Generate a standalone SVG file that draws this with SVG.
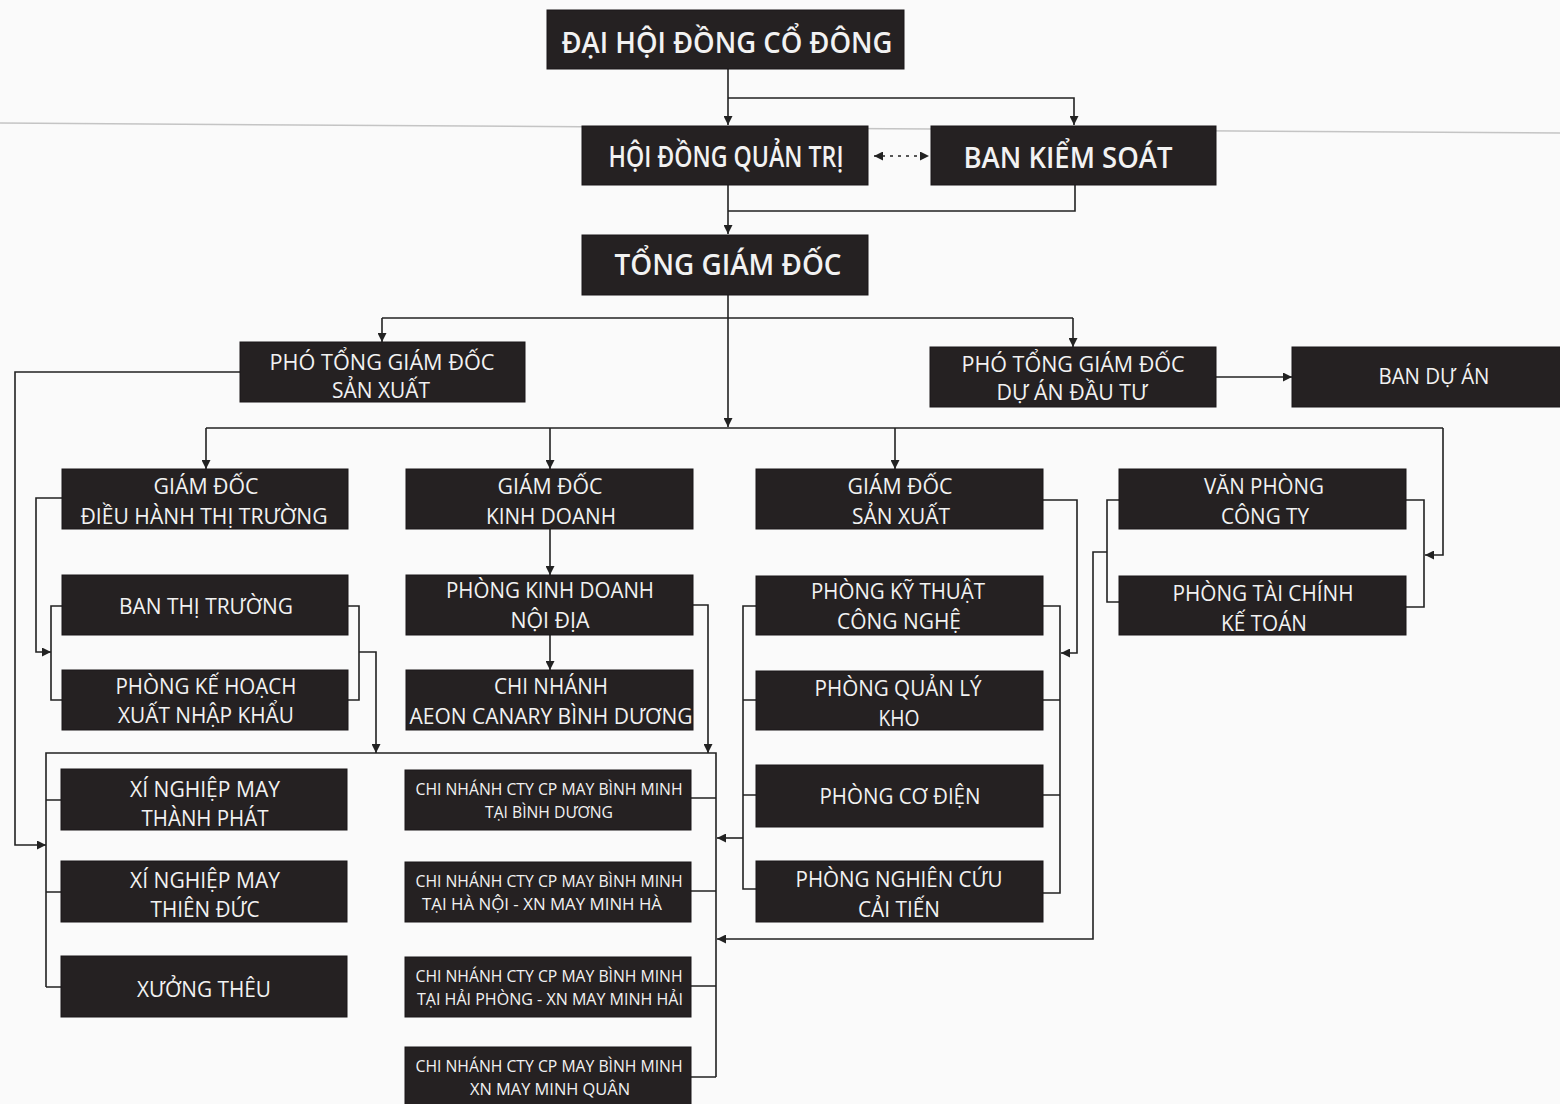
<svg xmlns="http://www.w3.org/2000/svg" width="1560" height="1104" viewBox="0 0 1560 1104">
<defs>
<marker id="ah" viewBox="0 0 10 10" refX="10" refY="5" markerWidth="9" markerHeight="9" markerUnits="userSpaceOnUse" orient="auto"><path d="M0,0 L10,5 L0,10 z" fill="#222"/></marker>
<marker id="ahs" viewBox="0 0 10 10" refX="0" refY="5" markerWidth="9" markerHeight="9" markerUnits="userSpaceOnUse" orient="auto"><path d="M10,0 L0,5 L10,10 z" fill="#222"/></marker>
</defs>
<style>
.box{fill:#252122;stroke:#1a1718;stroke-width:1}
.t{font-family:"Open Sans","Noto Sans","DejaVu Sans",sans-serif;fill:#f2f2f2;text-anchor:middle}
.big{font-size:28px;font-weight:600}
.mid{font-size:22px}
.sm{font-size:16px}
.c{fill:none;stroke:#222;stroke-width:1.6}
.a{marker-end:url(#ah)}
</style>
<rect x="0" y="0" width="1560" height="1104" fill="#fafafa"/>
<line x1="0" y1="123" x2="1560" y2="133" stroke="#c4c4c4" stroke-width="1.5"/>

<g id="connectors">
<path class="c a" d="M728,69 V125"/>
<path class="c a" d="M728,98 H1074 V125"/>
<path class="c" d="M874,156 H929" stroke-width="2.2" stroke-dasharray="3,5" marker-start="url(#ahs)" marker-end="url(#ah)"/>
<path class="c a" d="M728,185 V234"/>
<path class="c" d="M1075,185 V211 H728"/>
<path class="c a" d="M728,295 V427"/>
<path class="c" d="M382,318 H1073"/>
<path class="c a" d="M382,318 V342"/>
<path class="c a" d="M1073,318 V347"/>
<path class="c a" d="M1216,377 H1292"/>
<path class="c" d="M206,428 H1443"/>
<path class="c a" d="M206,428 V469"/>
<path class="c a" d="M550,428 V469"/>
<path class="c a" d="M895,428 V469"/>
<path class="c a" d="M1443,428 V555 H1425"/>
<path class="c a" d="M240,372 H15 V845 H46"/>
<path class="c a" d="M62,498 H36 V652 H51"/>
<path class="c" d="M62,606 H51 V700 H62"/>
<path class="c" d="M348,606 H359 V700 H348"/>
<path class="c a" d="M359,652 H376 V753"/>
<path class="c a" d="M550,529 V575"/>
<path class="c a" d="M550,635 V670"/>
<path class="c a" d="M693,605 H708 V753"/>
<path class="c" d="M46,987 V753 H716 V1077"/>
<path class="c" d="M46,800 H61 M46,892 H61 M46,987 H61"/>
<path class="c" d="M691,798 H716 M691,891 H716 M691,986 H716 M691,1077 H716"/>
<path class="c a" d="M1043,500 H1077 V653 H1061"/>
<path class="c" d="M1043,606 H1060 V893 H1043 M1043,700 H1060 M1043,795 H1060"/>
<path class="c" d="M756,606 H743 V889 H756 M743,700 H756 M743,795 H756"/>
<path class="c a" d="M743,838 H717"/>
<path class="c" d="M1119,500 H1107 V602 H1119"/>
<path class="c a" d="M1107,552 H1093 V939 H717"/>
<path class="c" d="M1406,500 H1424 V607 H1406"/>
</g>

<g id="dai-hoi-dong-co-dong"><rect class="box" x="547" y="10" width="357" height="59"/><text class="t big" x="727" y="53" textLength="331" lengthAdjust="spacingAndGlyphs">ĐẠI HỘI ĐỒNG CỔ ĐÔNG</text></g>
<g id="hoi-dong-quan-tri"><rect class="box" x="582" y="126" width="286" height="59"/><text class="t big" x="726" y="167" font-size="26" textLength="235" lengthAdjust="spacingAndGlyphs">HỘI ĐỒNG QUẢN TRỊ</text></g>
<g id="ban-kiem-soat"><rect class="box" x="931" y="126" width="285" height="59"/><text class="t big" x="1068" y="168" textLength="209" lengthAdjust="spacingAndGlyphs">BAN KIỂM SOÁT</text></g>
<g id="tong-giam-doc"><rect class="box" x="582" y="235" width="286" height="60"/><text class="t big" x="728" y="275" textLength="227" lengthAdjust="spacingAndGlyphs">TỔNG GIÁM ĐỐC</text></g>

<g id="pho-tgd-san-xuat"><rect class="box" x="240" y="342" width="285" height="60"/><text class="t mid" x="382" y="370" textLength="225" lengthAdjust="spacingAndGlyphs">PHÓ TỔNG GIÁM ĐỐC</text><text class="t mid" x="381" y="398" textLength="98" lengthAdjust="spacingAndGlyphs">SẢN XUẤT</text></g>
<g id="pho-tgd-du-an"><rect class="box" x="930" y="347" width="286" height="60"/><text class="t mid" x="1073" y="372" textLength="223" lengthAdjust="spacingAndGlyphs">PHÓ TỔNG GIÁM ĐỐC</text><text class="t mid" x="1072" y="400" textLength="151" lengthAdjust="spacingAndGlyphs">DỰ ÁN ĐẦU TƯ</text></g>
<g id="ban-du-an"><rect class="box" x="1292" y="347" width="272" height="60"/><text class="t mid" x="1434" y="384" textLength="111" lengthAdjust="spacingAndGlyphs">BAN DỰ ÁN</text></g>

<g id="gd-dieu-hanh-thi-truong"><rect class="box" x="62" y="469" width="286" height="60"/><text class="t mid" x="206" y="494" textLength="105" lengthAdjust="spacingAndGlyphs">GIÁM ĐỐC</text><text class="t mid" x="204" y="524" textLength="247" lengthAdjust="spacingAndGlyphs">ĐIỀU HÀNH THỊ TRƯỜNG</text></g>
<g id="gd-kinh-doanh"><rect class="box" x="406" y="469" width="287" height="60"/><text class="t mid" x="550" y="494" textLength="105" lengthAdjust="spacingAndGlyphs">GIÁM ĐỐC</text><text class="t mid" x="551" y="524" textLength="130" lengthAdjust="spacingAndGlyphs">KINH DOANH</text></g>
<g id="gd-san-xuat"><rect class="box" x="756" y="469" width="287" height="60"/><text class="t mid" x="900" y="494" textLength="105" lengthAdjust="spacingAndGlyphs">GIÁM ĐỐC</text><text class="t mid" x="901" y="524" textLength="98" lengthAdjust="spacingAndGlyphs">SẢN XUẤT</text></g>
<g id="van-phong-cong-ty"><rect class="box" x="1119" y="469" width="287" height="60"/><text class="t mid" x="1264" y="494" textLength="120" lengthAdjust="spacingAndGlyphs">VĂN PHÒNG</text><text class="t mid" x="1265" y="524" textLength="88" lengthAdjust="spacingAndGlyphs">CÔNG TY</text></g>

<g id="ban-thi-truong"><rect class="box" x="62" y="575" width="286" height="60"/><text class="t mid" x="206" y="614" textLength="174" lengthAdjust="spacingAndGlyphs">BAN THỊ TRƯỜNG</text></g>
<g id="phong-kinh-doanh-noi-dia"><rect class="box" x="406" y="575" width="287" height="60"/><text class="t mid" x="550" y="598" textLength="208" lengthAdjust="spacingAndGlyphs">PHÒNG KINH DOANH</text><text class="t mid" x="550" y="628" textLength="79" lengthAdjust="spacingAndGlyphs">NỘI ĐỊA</text></g>
<g id="phong-ky-thuat-cong-nghe"><rect class="box" x="756" y="576" width="287" height="59"/><text class="t mid" x="898" y="599" textLength="174" lengthAdjust="spacingAndGlyphs">PHÒNG KỸ THUẬT</text><text class="t mid" x="899" y="629" textLength="124" lengthAdjust="spacingAndGlyphs">CÔNG NGHỆ</text></g>
<g id="phong-tai-chinh-ke-toan"><rect class="box" x="1119" y="576" width="287" height="59"/><text class="t mid" x="1263" y="601" textLength="181" lengthAdjust="spacingAndGlyphs">PHÒNG TÀI CHÍNH</text><text class="t mid" x="1264" y="631" textLength="86" lengthAdjust="spacingAndGlyphs">KẾ TOÁN</text></g>

<g id="phong-ke-hoach-xnk"><rect class="box" x="62" y="670" width="286" height="60"/><text class="t mid" x="206" y="694" textLength="181" lengthAdjust="spacingAndGlyphs">PHÒNG KẾ HOẠCH</text><text class="t mid" x="206" y="723" textLength="176" lengthAdjust="spacingAndGlyphs">XUẤT NHẬP KHẨU</text></g>
<g id="chi-nhanh-aeon"><rect class="box" x="406" y="670" width="287" height="60"/><text class="t mid" x="551" y="694" textLength="114" lengthAdjust="spacingAndGlyphs">CHI NHÁNH</text><text class="t mid" x="551" y="724" textLength="283" lengthAdjust="spacingAndGlyphs">AEON CANARY BÌNH DƯƠNG</text></g>
<g id="phong-quan-ly-kho"><rect class="box" x="756" y="671" width="287" height="59"/><text class="t mid" x="898" y="696" textLength="167" lengthAdjust="spacingAndGlyphs">PHÒNG QUẢN LÝ</text><text class="t mid" x="899" y="726" textLength="41" lengthAdjust="spacingAndGlyphs">KHO</text></g>
<g id="phong-co-dien"><rect class="box" x="756" y="765" width="287" height="62"/><text class="t mid" x="900" y="804" textLength="161" lengthAdjust="spacingAndGlyphs">PHÒNG CƠ ĐIỆN</text></g>
<g id="phong-nghien-cuu-cai-tien"><rect class="box" x="756" y="861" width="287" height="61"/><text class="t mid" x="899" y="887" textLength="207" lengthAdjust="spacingAndGlyphs">PHÒNG NGHIÊN CỨU</text><text class="t mid" x="899" y="917" textLength="82" lengthAdjust="spacingAndGlyphs">CẢI TIẾN</text></g>

<g id="xn-may-thanh-phat"><rect class="box" x="61" y="769" width="286" height="61"/><text class="t mid" x="205" y="797" textLength="150" lengthAdjust="spacingAndGlyphs">XÍ NGHIỆP MAY</text><text class="t mid" x="205" y="826" textLength="127" lengthAdjust="spacingAndGlyphs">THÀNH PHÁT</text></g>
<g id="xn-may-thien-duc"><rect class="box" x="61" y="861" width="286" height="61"/><text class="t mid" x="205" y="888" textLength="150" lengthAdjust="spacingAndGlyphs">XÍ NGHIỆP MAY</text><text class="t mid" x="205" y="917" textLength="109" lengthAdjust="spacingAndGlyphs">THIÊN ĐỨC</text></g>
<g id="xuong-theu"><rect class="box" x="61" y="956" width="286" height="61"/><text class="t mid" x="204" y="997" textLength="134" lengthAdjust="spacingAndGlyphs">XƯỞNG THÊU</text></g>

<g id="cn-binh-duong"><rect class="box" x="405" y="770" width="286" height="60"/><text class="t sm" x="549" y="795" textLength="267" lengthAdjust="spacingAndGlyphs">CHI NHÁNH CTY CP MAY BÌNH MINH</text><text class="t sm" x="549" y="818" textLength="128" lengthAdjust="spacingAndGlyphs">TẠI BÌNH DƯƠNG</text></g>
<g id="cn-ha-noi"><rect class="box" x="405" y="862" width="286" height="60"/><text class="t sm" x="549" y="887" textLength="267" lengthAdjust="spacingAndGlyphs">CHI NHÁNH CTY CP MAY BÌNH MINH</text><text class="t sm" x="542" y="910" textLength="240" lengthAdjust="spacingAndGlyphs">TẠI HÀ NỘI - XN MAY MINH HÀ</text></g>
<g id="cn-hai-phong"><rect class="box" x="405" y="957" width="286" height="60"/><text class="t sm" x="549" y="982" textLength="267" lengthAdjust="spacingAndGlyphs">CHI NHÁNH CTY CP MAY BÌNH MINH</text><text class="t sm" x="550" y="1005" textLength="266" lengthAdjust="spacingAndGlyphs">TẠI HẢI PHÒNG - XN MAY MINH HẢI</text></g>
<g id="cn-minh-quan"><rect class="box" x="405" y="1047" width="286" height="62"/><text class="t sm" x="549" y="1072" textLength="267" lengthAdjust="spacingAndGlyphs">CHI NHÁNH CTY CP MAY BÌNH MINH</text><text class="t sm" x="550" y="1095" textLength="160" lengthAdjust="spacingAndGlyphs">XN MAY MINH QUÂN</text></g>
</svg>
